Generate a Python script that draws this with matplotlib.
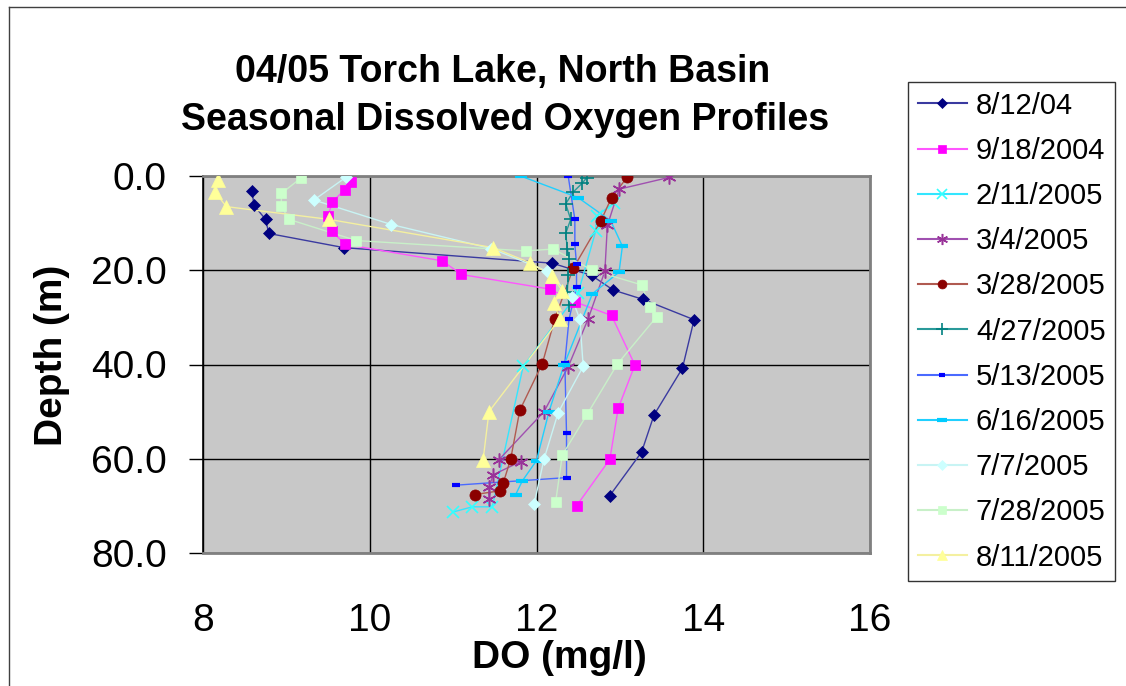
import matplotlib
matplotlib.use("Agg")
import matplotlib.pyplot as plt
from matplotlib.lines import Line2D

W, H, DPI = 1126, 686, 100
plt.rcParams['font.family'] = ['Liberation Sans', 'DejaVu Sans']

# ---- Dissolved oxygen profiles: DO (mg/l) against depth (m) ----
labels = ["8/12/04", "9/18/2004", "2/11/2005", "3/4/2005", "3/28/2005",
          "4/27/2005", "5/13/2005", "6/16/2005", "7/7/2005", "7/28/2005",
          "8/11/2005"]

do_0812_04 = [8.59, 8.61, 8.75, 8.79, 9.69, 12.19, 12.66, 12.92, 13.28, 13.89,
              13.75, 13.41, 13.26, 12.88]
depth_0812_04 = [3.2, 6.2, 9.2, 12.2, 15.2, 18.5, 21.1, 24.2, 26.2, 30.5,
                 40.8, 50.7, 58.6, 67.8]

do_0918_04 = [9.78, 9.70, 9.55, 9.50, 9.55, 9.70, 10.87, 11.10, 12.16, 12.46,
              12.90, 13.18, 12.98, 12.88, 12.48]
depth_0918_04 = [1.3, 2.9, 5.5, 8.5, 11.7, 14.5, 18.0, 20.9, 24.0, 26.7,
                 29.6, 40.1, 49.3, 60.1, 70.0]

do_0211_05 = [12.93, 12.72, 12.71, 12.50, 11.84, 11.47, 11.23, 11.00]
depth_0211_05 = [5.7, 8.5, 11.7, 24.8, 40.4, 70.2, 70.2, 71.3]

do_0304_05 = [13.59, 12.99, 12.85, 12.82, 12.62, 12.38, 12.09, 11.55, 11.81,
              11.48, 11.43, 11.43]
depth_0304_05 = [0.3, 2.8, 10.5, 20.2, 30.3, 40.5, 50.0, 60.2, 60.6, 63.4,
                 66.1, 68.5]

do_0328_05 = [13.09, 12.90, 12.77, 12.44, 12.22, 12.07, 11.80, 11.69, 11.60,
              11.56, 11.26]
depth_0328_05 = [0.2, 4.6, 9.6, 19.6, 30.3, 39.8, 49.7, 60.1, 65.2, 66.8, 67.6]

do_0427_05 = [12.60, 12.55, 12.44, 12.35, 12.41, 12.35, 12.37, 12.39, 12.38,
              12.37, 12.39]
depth_0427_05 = [0.4, 1.5, 3.4, 5.9, 9.2, 12.2, 15.4, 17.7, 21.0, 24.6, 27.4]

do_0513_05 = [12.38, 12.46, 12.46, 12.48, 12.48, 12.39, 12.34, 12.36, 12.36,
              11.04]
depth_0513_05 = [0.0, 9.2, 14.5, 18.7, 23.5, 30.4, 39.6, 54.6, 64.0, 65.6]

do_0616_05 = [11.81, 12.50, 12.89, 13.03, 12.99, 12.67, 12.33, 12.15, 12.00,
              11.83, 11.75]
depth_0616_05 = [0.0, 4.6, 9.5, 14.9, 20.4, 25.0, 40.1, 50.0, 60.4, 64.7, 67.6]

do_0707_05 = [9.72, 9.33, 10.26, 11.46, 12.13, 12.42, 12.52, 12.56, 12.26,
              12.09, 11.97]
depth_0707_05 = [0.2, 5.1, 10.3, 15.4, 20.2, 25.7, 30.4, 40.4, 50.2, 60.1, 69.7]

do_0728_05 = [9.17, 8.94, 8.94, 9.03, 9.84, 11.87, 12.20, 12.67, 13.26, 13.36,
              13.44, 12.97, 12.61, 12.31, 12.23]
depth_0728_05 = [0.5, 3.7, 6.4, 9.2, 13.7, 15.9, 15.5, 20.0, 23.1, 27.8, 29.9,
                 39.9, 50.5, 59.2, 69.1]

do_0811_05 = [8.18, 8.14, 8.28, 9.51, 11.48, 11.92, 12.19, 12.31, 12.21, 12.28,
              11.43, 11.36]
depth_0811_05 = [0.9, 3.3, 6.5, 9.2, 15.2, 18.4, 21.2, 24.4, 27.0, 30.3, 50.0,
                 60.2]

x_ticks = [8, 10, 12, 14, 16]
y_ticks = [0, 20, 40, 60, 80]

profiles = [
    (do_0812_04, depth_0812_04), (do_0918_04, depth_0918_04),
    (do_0211_05, depth_0211_05), (do_0304_05, depth_0304_05),
    (do_0328_05, depth_0328_05), (do_0427_05, depth_0427_05),
    (do_0513_05, depth_0513_05), (do_0616_05, depth_0616_05),
    (do_0707_05, depth_0707_05), (do_0728_05, depth_0728_05),
    (do_0811_05, depth_0811_05),
]

# colour, marker, marker size, marker edge width, line colour
styles = [
    ("#000080", "D", 6.2, 0.5, "#3a3aa0"),
    ("#FF00FF", "s", 7.5, 0.5, "#ff55ff"),
    ("#33FFFF", "x", 8.5, 1.2, "#33e6ff"),
    ("#993399", (6, 2, 0), 10.0, 1.1, "#a050b0"),
    ("#8B0000", "o", 8.0, 0.5, "#b05a50"),
    ("#008080", "+", 10.0, 1.2, "#2a9a9a"),
    ("#0000FF", "_", 6.0, 3.0, "#4a6aff"),
    ("#00CCFF", "_", 8.5, 3.0, "#20d0ff"),
    ("#CCFFFF", "D", 6.2, 0.5, "#c8f4f4"),
    ("#CCFFCC", "s", 7.5, 0.5, "#c8f0c8"),
    ("#FFFF99", "^", 9.5, 0.5, "#f4f0a0"),
]

fig = plt.figure(figsize=(W / DPI, H / DPI), dpi=DPI)
fig.patch.set_facecolor("white")

ax = fig.add_axes([203 / W, 1 - 553 / H, (870 - 203) / W, (553 - 176) / H])
ax.set_facecolor("#C8C8C8")

handles = []
for (xs, ys), (col, mk, ms, mew, lcol), lab in zip(profiles, styles, labels):
    ax.plot(xs, ys, color=lcol, lw=1.0, zorder=3)
    ax.plot(xs, ys, ls="none", marker=mk, ms=ms, mew=mew,
            mfc=col, mec=col, zorder=4)
    handles.append(Line2D([], [], color=lcol, lw=1.5, marker=mk,
                          ms=ms * 0.8, mew=mew, mfc=col, mec=col))

ax.set_xlim(8, 16)
ax.set_ylim(80, 0)
ax.set_xticks(x_ticks)
ax.set_yticks(y_ticks)
ax.set_xticklabels([str(v) for v in x_ticks])
ax.set_yticklabels([f"{v:.1f}" for v in y_ticks])

ax.grid(True, color="black", lw=1.0, zorder=1)
ax.set_axisbelow(True)

ax.tick_params(axis="x", length=0, pad=36, labelsize=28)
ax.tick_params(axis="y", direction="out", length=10, width=1.0, pad=16,
               labelsize=28, color="black")

for side in ("top", "right", "bottom"):
    ax.spines[side].set_color("#808080")
    ax.spines[side].set_linewidth(2.0)
ax.spines["left"].set_color("black")
ax.spines["left"].set_linewidth(1.2)

# titles and axis labels
fig.text(503 / W, 1 - 82 / H, "04/05 Torch Lake, North Basin",
         ha="center", va="baseline", fontsize=27, fontweight="bold")
fig.text(505 / W, 1 - 130 / H, "Seasonal Dissolved Oxygen Profiles",
         ha="center", va="baseline", fontsize=27, fontweight="bold")
fig.text(559 / W, 1 - 668 / H, "DO (mg/l)", ha="center", va="baseline",
         fontsize=28, fontweight="bold")
fig.text(52 / W, 1 - 355 / H, "Depth (m)", ha="center", va="center",
         rotation=90, fontsize=28, fontweight="bold")

leg = fig.legend(handles, labels, loc="upper left",
                 bbox_to_anchor=(908 / W, 1 - 82 / H),
                 bbox_transform=fig.transFigure, fontsize=21,
                 frameon=True, fancybox=False, edgecolor="black",
                 borderaxespad=0, handlelength=1.7, handletextpad=0.3,
                 labelspacing=0.59, borderpad=0.33)
leg.get_frame().set_linewidth(1.0)

# chart border (left and top edges visible)
fig.add_artist(Line2D([9 / W, 9 / W], [0, 1 - 7 / H], color="#404040",
                      lw=1.0, transform=fig.transFigure))
fig.add_artist(Line2D([9 / W, 1], [1 - 7 / H, 1 - 7 / H], color="#404040",
                      lw=1.0, transform=fig.transFigure))

fig.savefig("out.png", dpi=DPI)
